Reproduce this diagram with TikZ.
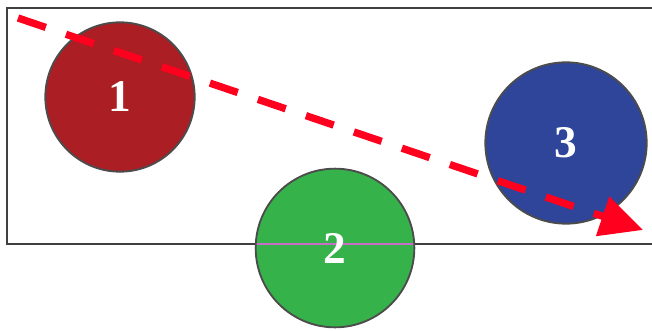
\documentclass[tikz,border=0pt]{standalone}
\usepackage{fontspec}
\setmainfont{Liberation Serif}
\usetikzlibrary{arrows.meta}
\definecolor{ballred}{RGB}{170,30,36}
\definecolor{ballgreen}{RGB}{54,178,74}
\definecolor{ballblue}{RGB}{46,69,153}
\definecolor{pathred}{RGB}{255,0,30}
\definecolor{edgepink}{RGB}{200,110,200}
\begin{document}
\begin{tikzpicture}[x=0.75pt, y=-0.75pt, line width=1.5pt,
  ball/.style={circle, draw=black!70, line width=1.4pt, text=white, inner sep=0pt,
    font=\fontsize{34}{34}\selectfont\bfseries},
  frame/.style={draw=black!75, line width=1.5pt},
  track/.style={draw=pathred, line width=5.5pt, dash pattern=on 22pt off 16pt,
    -{Triangle[length=32pt, width=30pt]}}]
  \useasboundingbox (0,0) rectangle (652,331);
  % box, open on the right
  \draw[frame] (652,8) -- (7,8) -- (7,244) -- (652,244);
  % the three balls
  \node[ball, fill=ballred, minimum size=112pt] (b1) at (120,97) {1};
  \node[ball, fill=ballblue, minimum size=121pt] (b3) at (566,143) {3};
  \node[ball, fill=ballgreen, minimum size=119pt,
    path picture={\draw[edgepink, line width=1.3pt]
      ([yshift=3pt]path picture bounding box.west) -- ([yshift=3pt]path picture bounding box.east);}]
    (b2) at (335,248) {2};
  % direction of motion
  \coordinate (start) at (18,18);
  \coordinate (stop) at (643,230);
  \draw[track] (start) -- (stop);
\end{tikzpicture}
\end{document}
